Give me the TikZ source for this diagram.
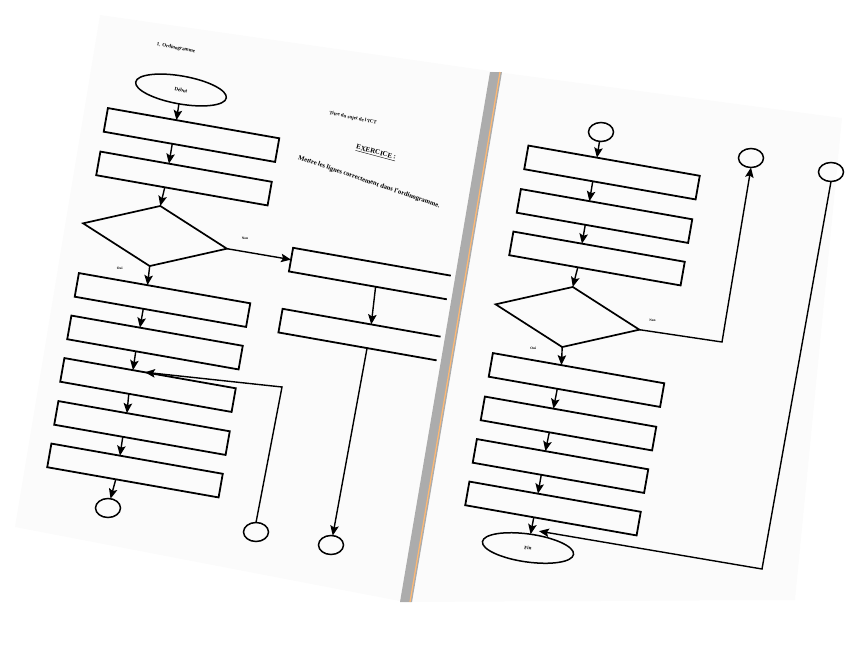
\documentclass[tikz,border=0pt]{standalone}
\usepackage{fontspec}
\setmainfont{Liberation Serif}
\usetikzlibrary{shapes.geometric,arrows.meta,calc}
\begin{document}
\begin{tikzpicture}[x=1pt,y=-1pt,
  box/.style={draw,line width=1.8pt,minimum width=174pt,minimum height=24pt,inner sep=0pt,outer sep=0pt,rotate=-10},
  dia/.style={diamond,draw,line width=1.7pt,minimum width=146pt,minimum height=61pt,inner sep=0pt,outer sep=0pt,rotate=-10},
  term/.style={ellipse,draw,line width=1.5pt,minimum width=92pt,minimum height=28pt,inner sep=0pt,outer sep=0pt,font=\fontsize{5}{6}\selectfont\bfseries},
  conn/.style={ellipse,draw,line width=1.5pt,minimum width=25pt,minimum height=19pt,inner sep=0pt,outer sep=0pt},
  arr/.style={line width=1.4pt,-{Stealth[length=10pt,width=8.5pt,inset=2pt]}},
  lbl/.style={font=\fontsize{3.5}{4}\selectfont\bfseries,inner sep=0pt},
  page/.style={fill=gray!3,draw=none}]
\useasboundingbox (0,0) rectangle (855,662);
% pages
\fill[page] (100,15) -- (497,72) -- (405,602) -- (15,527) -- cycle;
\fill[page] (497,72) -- (842,118) -- (795,600) -- (405,602) -- cycle;

% ---------- left page ----------
\node[font=\fontsize{5}{6}\selectfont\bfseries,rotate=-10] (t1) at (176,48) {1. Ordinogramme};
\node[font=\fontsize{5}{6}\selectfont\bfseries,rotate=-12] (t2) at (353,118) {Titre du sujet de l'ICT};
\node[font=\fontsize{7}{8}\selectfont\bfseries,rotate=-15,inner sep=0pt] (t3) at (376,153) {\underline{EXERCICE :}};
\node[font=\fontsize{6.6}{8}\selectfont\bfseries,rotate=-19,inner sep=0pt] (t4) at (369,182) {Mettre les lignes correctement dans l'ordinogramme.};

\node[term,rotate=-10] (deb) at (181,90) {Début};
\node[box] (b1) at (191.5,135) {};
\node[box] (b2) at (184,178.5) {};
\node[dia] (d1) at (155,236) {};
\node[box] (b3) at (162.5,300) {};
\node[box] (b4) at (155,342.5) {};
\node[box] (b5) at (148,385) {};
\node[box] (b6) at (142,428) {};
\node[box] (b7) at (135,470.5) {};
\node[conn] (c1) at (108,508) {};
\node[conn] (c2) at (256,532) {};
\node[conn] (c3) at (331,545) {};
\begin{scope}
\clip (0,0) -- (497,0) -- (386,662) -- (0,662) -- cycle;
\node[box,minimum width=200pt] (bA) at (389.5,277) {};
\node[box,minimum width=200pt] (bB) at (379,338) {};
\end{scope}
\coordinate (cL) at (282,387);

\draw[arr] (deb) -- ($(b1.north west)!0.4!(b1.north east)$);
\draw[arr] ($(b1.south west)!0.4!(b1.south east)$) -- ($(b2.north west)!0.4!(b2.north east)$);
\draw[arr] ($(b2.south west)!0.4!(b2.south east)$) -- (d1.north);
\draw[arr] (d1.south) -- ($(b3.north west)!0.4!(b3.north east)$);
\draw[arr] (d1.east) -- (bA.west);
\draw[arr] ($(b3.south west)!0.4!(b3.south east)$) -- ($(b4.north west)!0.4!(b4.north east)$);
\draw[arr] ($(b4.south west)!0.4!(b4.south east)$) -- ($(b5.north west)!0.4!(b5.north east)$);
\draw[arr] ($(b5.south west)!0.4!(b5.south east)$) -- ($(b6.north west)!0.4!(b6.north east)$);
\draw[arr] ($(b6.south west)!0.4!(b6.south east)$) -- ($(b7.north west)!0.4!(b7.north east)$);
\draw[arr] ($(b7.south west)!0.4!(b7.south east)$) -- (c1);
\draw[arr] (c2.north) -- (cL) -- ($(b5.north west)!0.47!(b5.north east)$);
\draw[arr] ($(bA.south west)!0.44!(bA.south east)$) -- ($(bB.north west)!0.45!(bB.north east)$);
\draw[arr] ($(bB.south west)!0.45!(bB.south east)$) -- (c3);
\node[lbl] (n1) at ($(d1.east)+(18,-10)$) {Non};
\node[lbl] (o1) at ($(d1.south)+(-30,2)$) {Oui};

% ---------- fold ----------
\fill[gray!65] (490,72) -- (502,72) -- (412,602) -- (400,602) -- cycle;
\draw[orange!55,line width=1.2pt] (500,72) -- (410,602);

% ---------- right page ----------
\node[conn] (cR0) at (601,132) {};
\node[box] (r1) at (612,172.5) {};
\node[box] (r2) at (604.5,216) {};
\node[box] (r3) at (597,258.5) {};
\node[dia] (d2) at (567.5,317) {};
\node[box] (r4) at (576.5,380) {};
\node[box] (r5) at (568.5,423.5) {};
\node[box] (r6) at (560.5,466) {};
\node[box] (r7) at (553,508.5) {};
\node[term,rotate=-8] (fin) at (528,548) {Fin};
\node[conn] (cR1) at (751,158) {};
\node[conn] (cR2) at (831,172) {};
\coordinate (cR) at (722,342);
\coordinate (cF) at (762,569);

\draw[arr] (cR0) -- ($(r1.north west)!0.4!(r1.north east)$);
\draw[arr] ($(r1.south west)!0.4!(r1.south east)$) -- ($(r2.north west)!0.4!(r2.north east)$);
\draw[arr] ($(r2.south west)!0.4!(r2.south east)$) -- ($(r3.north west)!0.4!(r3.north east)$);
\draw[arr] ($(r3.south west)!0.4!(r3.south east)$) -- (d2.north);
\draw[arr] (d2.south) -- ($(r4.north west)!0.4!(r4.north east)$);
\draw[arr] ($(r4.south west)!0.4!(r4.south east)$) -- ($(r5.north west)!0.4!(r5.north east)$);
\draw[arr] ($(r5.south west)!0.4!(r5.south east)$) -- ($(r6.north west)!0.4!(r6.north east)$);
\draw[arr] ($(r6.south west)!0.4!(r6.south east)$) -- ($(r7.north west)!0.4!(r7.north east)$);
\draw[arr] ($(r7.south west)!0.4!(r7.south east)$) -- (fin);
\draw[arr] (d2.east) -- (cR) -- (cR1.south);
\draw[arr] (cR2.south) -- (cF) -- ($(fin.north)+(9,-3)$);
\node[lbl] (n2) at ($(d2.east)+(13,-9)$) {Non};
\node[lbl] (o2) at ($(d2.south)+(-29,1)$) {Oui};
\end{tikzpicture}
\end{document}
